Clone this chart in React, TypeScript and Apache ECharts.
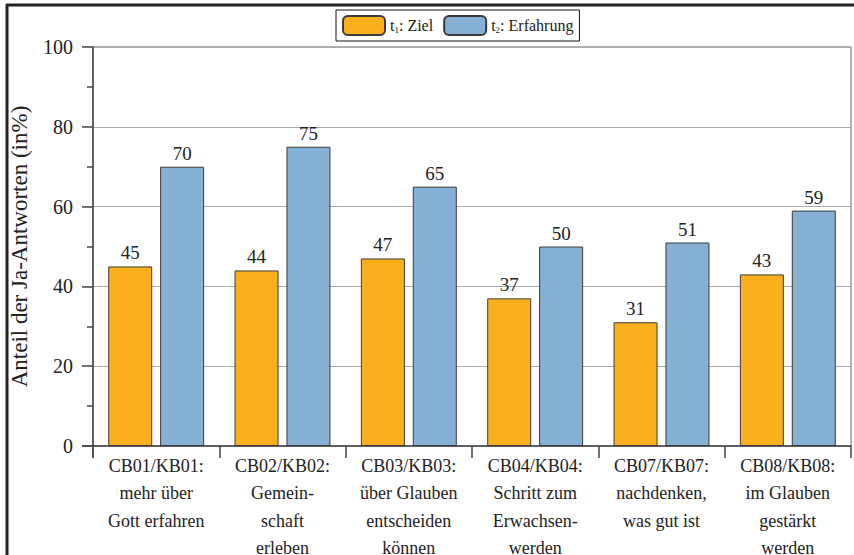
import React, { useEffect, useRef } from "react";
import * as echarts from "echarts";

const categories = [
  "CB01/KB01:\nmehr über\nGott erfahren",
  "CB02/KB02:\nGemein-\nschaft\nerleben",
  "CB03/KB03:\nüber Glauben\nentscheiden\nkönnen",
  "CB04/KB04:\nSchritt zum\nErwachsen-\nwerden",
  "CB07/KB07:\nnachdenken,\nwas gut ist",
  "CB08/KB08:\nim Glauben\ngestärkt\nwerden",
];
const t1Values = [45, 44, 47, 37, 31, 43];
const t2Values = [70, 75, 65, 50, 51, 59];
const seriesNames = ["t1: Ziel", "t2: Erfahrung"];
const yTicks = { min: 0, max: 100, interval: 20 };

const FONT = "Liberation Serif";

export default function App() {
  const ref = useRef<HTMLDivElement>(null);
  useEffect(() => {
    if (!ref.current) return;
    const chart = echarts.init(ref.current, undefined, { renderer: "svg" });
    const barStyle = (color: string) => ({
      color,
      borderColor: "#3a3a3a",
      borderWidth: 1,
    });
    const label = {
      show: true,
      position: "top" as const,
      distance: 4,
      fontFamily: FONT,
      fontSize: 19,
      color: "#222",
    };
    chart.setOption({
      animation: false,
      textStyle: { fontFamily: FONT },
      graphic: [
        { type: "line", shape: { x1: 6, y1: 5, x2: 854, y2: 5 }, style: { stroke: "#222", lineWidth: 3 } },
        { type: "line", shape: { x1: 7, y1: 4, x2: 7, y2: 555 }, style: { stroke: "#222", lineWidth: 3 } },
        { type: "line", shape: { x1: 93, y1: 446, x2: 93, y2: 458 }, style: { stroke: "#444", lineWidth: 1.5 } },
        { type: "line", shape: { x1: 82, y1: 446, x2: 93, y2: 446 }, style: { stroke: "#444", lineWidth: 1.5 } },
      ],
      legend: {
        data: seriesNames,
        left: 336,
        top: 10,
        itemWidth: 42,
        itemHeight: 19,
        itemGap: 10,
        padding: [5, 6, 5, 6],
        borderColor: "#111",
        borderWidth: 1,
        formatter: (name: string) =>
          name === seriesNames[0] ? "{a|t}{s|1}{a|: Ziel}" : "{a|t}{s|2}{a|: Erfahrung}",
        textStyle: {
          rich: {
            a: { fontFamily: FONT, fontSize: 16, color: "#222" },
            s: { fontFamily: FONT, fontSize: 9, color: "#222", padding: [9, 0, 0, 0] },
          },
        },
      },
      grid: {
        left: 93,
        right: 3,
        top: 47,
        bottom: 109,
        show: true,
        borderColor: "#666",
        borderWidth: 1,
        containLabel: false,
        outerBoundsMode: "none",
      },
      xAxis: {
        type: "category",
        data: categories,
        axisLine: { lineStyle: { color: "#444", width: 1.5 } },
        axisTick: { show: true, length: 12, alignWithLabel: false, lineStyle: { color: "#444", width: 1.5 } },
        axisLabel: {
          interval: 0,
          margin: 6,
          fontFamily: FONT,
          fontSize: 18,
          lineHeight: 27.5,
          color: "#222",
          verticalAlign: "top",
        },
      },
      yAxis: {
        type: "value",
        min: yTicks.min,
        max: yTicks.max,
        interval: yTicks.interval,
        name: "Anteil der Ja-Antworten (in%)",
        nameLocation: "middle",
        nameGap: 62,
        nameTextStyle: { fontFamily: FONT, fontSize: 23, color: "#222" },
        axisLine: { show: true, lineStyle: { color: "#444", width: 1.5 } },
        axisTick: { show: true, length: 11, lineStyle: { color: "#444", width: 1.5 } },
        minorTick: { show: true, splitNumber: 2, length: 6, lineStyle: { color: "#444", width: 1.5 } },
        splitLine: { show: true, lineStyle: { color: "#aaa", width: 1 } },
        axisLabel: { margin: 20, fontFamily: FONT, fontSize: 20, color: "#222" },
      },
      series: [
        {
          name: seriesNames[0],
          type: "bar",
          data: t1Values,
          barWidth: 44,
          barGap: "18%",
          itemStyle: barStyle("#F9B01C"),
          label,
        },
        {
          name: seriesNames[1],
          type: "bar",
          data: t2Values,
          barWidth: 44,
          itemStyle: barStyle("#86B0D4"),
          label,
        },
      ],
    });
    return () => chart.dispose();
  }, []);
  return (
    <div
      ref={ref}
      style={{ position: "fixed", left: 0, top: 0, width: 854, height: 555, background: "#fff" }}
    />
  );
}
